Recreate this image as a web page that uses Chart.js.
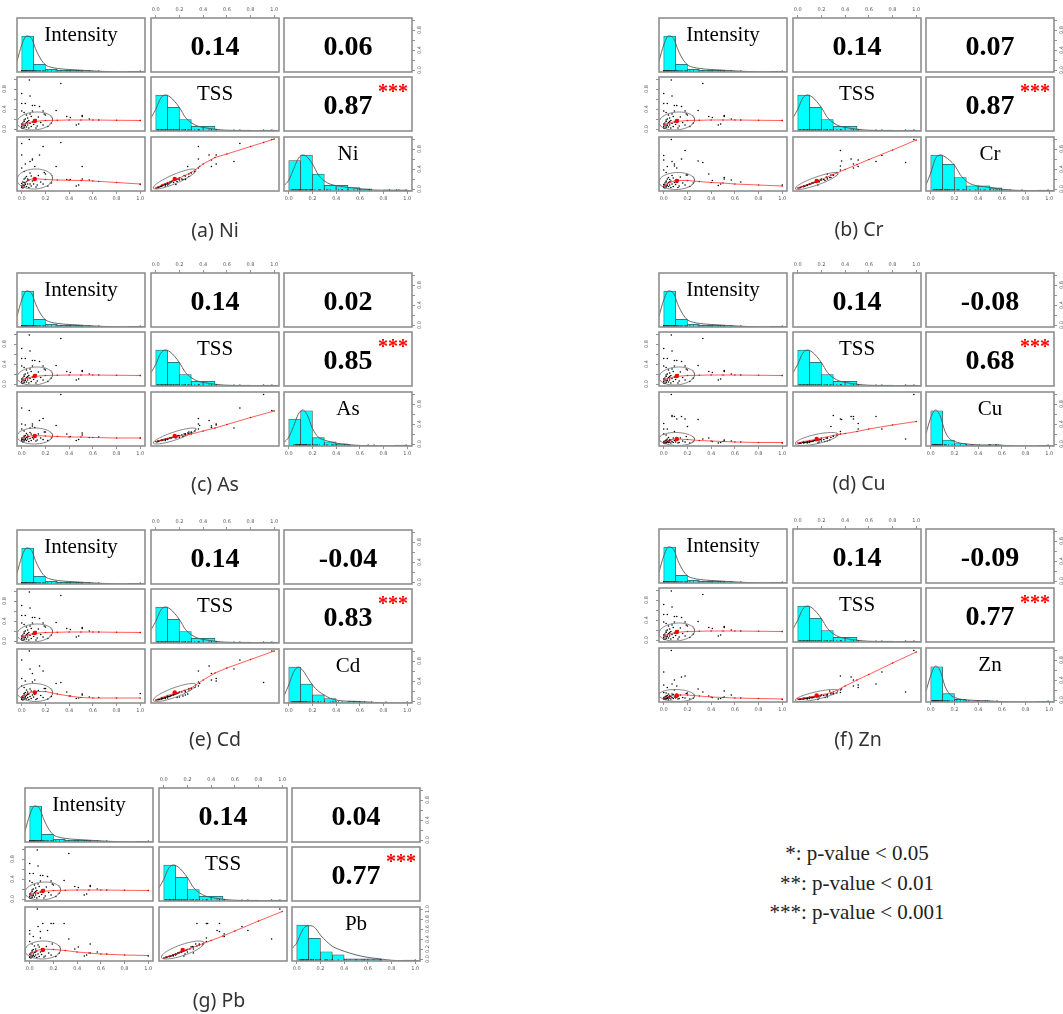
<!DOCTYPE html>
<html>
<head>
<meta charset="utf-8">
<script src="https://cdn.jsdelivr.net/npm/chart.js@4.4.0/dist/chart.umd.min.js"></script>
<style>
  body { margin: 0; background: #fff; width: 1063px; height: 1014px; position: relative; overflow: hidden; }
  .cell { position: absolute; }
  .cap { position: absolute; transform: translate(-50%, -50%); white-space: nowrap;
         font-family: 'Noto Sans', sans-serif; font-size: 19.5px; color: #333; }
  .note { position: absolute; left: 857px; transform: translate(-50%, -50%); white-space: nowrap;
          font-family: 'Liberation Serif', serif; font-size: 21px; color: #222; }
</style>
</head>
<body>
<script>
// ---- data ----
const METALS = ['Ni', 'Cr', 'As', 'Cu', 'Cd', 'Zn', 'Pb'];
const LETTERS = ['a', 'b', 'c', 'd', 'e', 'f', 'g'];
const R_INT_TSS = 0.14;
const R_INT_METAL = [0.06, 0.07, 0.02, -0.08, -0.04, -0.09, 0.04];
const R_TSS_METAL = [0.87, 0.87, 0.85, 0.68, 0.83, 0.77, 0.77];
const STARS_TSS_METAL = ['***', '***', '***', '***', '***', '***', '***'];
const NOTES = ['*: p-value < 0.05', '**: p-value < 0.01', '***: p-value < 0.001'];

const TICKS = [0, 0.2, 0.4, 0.6, 0.8, 1.0];
const SIDE_LABELS = [0, 0.4, 0.8];

// histograms (10 bins of 0.1)
const BIN_CENTERS = [0.05, 0.15, 0.25, 0.35, 0.45, 0.55, 0.65, 0.75, 0.85, 0.95];
const HIST_INT = [65, 14, 5, 3, 3, 2, 1, 0, 0, 1];
const HIST_TSS = [38, 25, 12, 5, 5, 0, 1, 1, 0, 1];
const HIST_NI = [27, 32, 15, 5, 5, 3, 2, 0, 1, 1];
const HIST_CR = [35, 26, 13, 5, 5, 3, 1, 1, 0, 1];
const HIST_AS = [26, 34, 8, 4, 2, 1, 0, 0, 0, 1];
const HIST_CU = [60, 10, 4, 2, 1, 2, 0, 0, 0, 1];
const HIST_CD = [40, 21, 9, 5, 1, 2, 1, 0, 0, 0];
const HIST_ZN = [55, 13, 4, 2, 2, 1, 0, 0, 0, 1];
const HIST_PB = [35, 22, 9, 6, 2, 2, 2, 0, 0, 1];

// density curves, relative to the tallest bar
const DENS_X = [-0.04, 0, 0.04, 0.08, 0.12, 0.16, 0.2, 0.25, 0.3, 0.35, 0.4, 0.5, 0.6, 0.7, 0.8, 0.9, 1.0, 1.04];
const DENS_INT = [0.3, 0.75, 1.0, 0.95, 0.62, 0.36, 0.2, 0.13, 0.1, 0.08, 0.07, 0.05, 0.03, 0.015, 0.006, 0.004, 0.006, 0.004];
const DENS_TSS = [0.37, 0.6, 0.9, 1.0, 0.95, 0.82, 0.65, 0.38, 0.23, 0.14, 0.1, 0.05, 0.02, 0.012, 0.01, 0.01, 0.012, 0.01];
const DENS_NI = [0.15, 0.3, 0.6, 0.9, 1.0, 0.93, 0.75, 0.45, 0.28, 0.19, 0.15, 0.1, 0.06, 0.03, 0.02, 0.015, 0.01, 0.005];
const DENS_CR = [0.17, 0.5, 0.9, 1.0, 0.95, 0.85, 0.72, 0.45, 0.27, 0.18, 0.14, 0.1, 0.05, 0.02, 0.01, 0.01, 0.01, 0.005];
const DENS_AS = [0.1, 0.25, 0.55, 0.9, 1.02, 0.85, 0.5, 0.25, 0.17, 0.12, 0.08, 0.04, 0.015, 0.01, 0.005, 0.004, 0.005, 0.003];
const DENS_CU = [0.35, 0.8, 1.02, 0.85, 0.42, 0.2, 0.13, 0.08, 0.06, 0.04, 0.03, 0.03, 0.02, 0.005, 0.002, 0.001, 0.004, 0.002];
const DENS_CD = [0.2, 0.5, 0.85, 1.0, 0.9, 0.7, 0.5, 0.33, 0.22, 0.13, 0.08, 0.05, 0.04, 0.02, 0.005, 0.002, 0.001, 0];
const DENS_ZN = [0.3, 0.75, 1.02, 0.88, 0.45, 0.22, 0.13, 0.08, 0.06, 0.05, 0.04, 0.03, 0.01, 0.003, 0.001, 0.001, 0.003, 0.001];
const DENS_PB = [0.35, 0.5, 0.8, 0.97, 0.98, 0.9, 0.72, 0.55, 0.41, 0.33, 0.27, 0.17, 0.1, 0.06, 0.02, 0.01, 0.01, 0.005];

// samples (scaled 0-1)
const INTENSITY = [0.064, 0.33, 0, 0.07, 0, 0.03, 0.09, 0.11, 0.15, 0.29, 0, 0.02, 0.09, 0.41, 0.51, 0.51, 0.38, 0.57, 0.48, 0.46,
  1.0, 0.65, 0.2, 0.25, 0.22, 0, 0, 0.01, 0.01, 0.02, 0.02, 0.02, 0.03, 0.03, 0.04, 0.04, 0.05, 0.05, 0.06, 0.06,
  0.07, 0.08, 0.08, 0.09, 0.1, 0.12, 0.13, 0.14, 0.16, 0.18, 0.19, 0.01, 0.03, 0, 0.05, 0.04, 0.12, 0.02, 0.07, 0.11, 0.18];
const TSS = [0.98, 0.91, 0.71, 0.66, 0.51, 0.51, 0.47, 0.47, 0.45, 0.37, 0.36, 0.33, 0.36, 0.23, 0.27, 0.25, 0.25, 0.2, 0.1, 0.08,
  0.17, 0.18, 0.28, 0.12, 0.05, 0.02, 0.05, 0.08, 0.12, 0.03, 0.15, 0.06, 0.1, 0.2, 0.04, 0.13, 0.08, 0.22, 0.02, 0.17,
  0.11, 0.05, 0.25, 0.14, 0.09, 0.19, 0.06, 0.24, 0.13, 0.08, 0.3, 0.01, 0.07, 0.1, 0.15, 0.28, 0.02, 0.18, 0.3, 0.16, 0.36];
const NI = [0.99, 0.93, 0.91, 0.55, 0.68, 0.5, 0.58, 0.45, 0.68, 0.45, 0.42, 0.35, 0.6, 0.19, 0.45, 0.2, 0.19, 0.18, 0.08, 0.06,
  0.09, 0.15, 0.3, 0.12, 0.06, 0.03, 0.06, 0.08, 0.14, 0.04, 0.13, 0.07, 0.12, 0.22, 0.05, 0.15, 0.1, 0.2, 0.03, 0.18,
  0.1, 0.06, 0.26, 0.16, 0.1, 0.2, 0.08, 0.27, 0.14, 0.1, 0.33, 0.02, 0.09, 0.11, 0.17, 0.25, 0.04, 0.2, 0.32, 0.18, 0.85];
const CR = [0.99, 0.53, 0.67, 0.55, 0.58, 0.45, 0.5, 0.42, 0.6, 0.56, 0.38, 0.33, 0.46, 0.17, 0.23, 0.2, 0.3, 0.18, 0.1, 0.07,
  0.08, 0.14, 0.28, 0.12, 0.05, 0.03, 0.05, 0.08, 0.12, 0.04, 0.14, 0.06, 0.1, 0.2, 0.05, 0.13, 0.08, 0.19, 0.03, 0.16,
  0.1, 0.05, 0.22, 0.13, 0.09, 0.18, 0.06, 0.24, 0.12, 0.08, 0.28, 0.02, 0.07, 0.09, 0.14, 0.23, 0.03, 0.16, 0.27, 0.15, 0.77];
const AS = [0.67, 0.99, 0.72, 0.32, 0.4, 0.38, 0.36, 0.33, 0.47, 0.37, 0.3, 0.26, 0.4, 0.15, 0.22, 0.18, 0.2, 0.13, 0.09, 0.07,
  0.12, 0.14, 0.24, 0.12, 0.07, 0.06, 0.08, 0.09, 0.12, 0.06, 0.14, 0.08, 0.11, 0.17, 0.07, 0.13, 0.1, 0.18, 0.05, 0.15,
  0.11, 0.07, 0.2, 0.13, 0.1, 0.17, 0.08, 0.2, 0.12, 0.09, 0.24, 0.04, 0.09, 0.1, 0.14, 0.21, 0.06, 0.16, 0.23, 0.15, 0.51];
const CU = [0.99, 0.1, 0.3, 0.55, 0.41, 0.3, 0.55, 0.5, 0.55, 0.49, 0.2, 0.18, 0.25, 0.05, 0.08, 0.06, 0.12, 0.06, 0.03, 0.02,
  0.02, 0.04, 0.35, 0.05, 0.02, 0.02, 0.03, 0.04, 0.06, 0.02, 0.07, 0.03, 0.05, 0.1, 0.03, 0.06, 0.04, 0.09, 0.02, 0.08,
  0.05, 0.03, 0.12, 0.07, 0.04, 0.09, 0.03, 0.12, 0.06, 0.04, 0.15, 0.01, 0.04, 0.05, 0.07, 0.13, 0.02, 0.08, 0.57, 0.07, 0.5];
const CD = [1.0, 0.37, 0.82, 0.64, 0.45, 0.4, 0.55, 0.42, 0.7, 0.35, 0.3, 0.27, 0.38, 0.1, 0.14, 0.12, 0.18, 0.08, 0.06, 0.05,
  0.15, 0.07, 0.25, 0.09, 0.04, 0.03, 0.05, 0.07, 0.1, 0.03, 0.12, 0.06, 0.09, 0.17, 0.04, 0.11, 0.07, 0.18, 0.03, 0.14,
  0.09, 0.05, 0.2, 0.12, 0.08, 0.16, 0.05, 0.21, 0.11, 0.07, 0.25, 0.02, 0.06, 0.08, 0.13, 0.22, 0.03, 0.15, 0.24, 0.13, 0.6];
const ZN = [0.99, 0.16, 0.56, 0.32, 0.3, 0.25, 0.4, 0.28, 0.46, 0.22, 0.15, 0.14, 0.2, 0.05, 0.18, 0.06, 0.08, 0.1, 0.03, 0.02,
  0.01, 0.04, 0.14, 0.04, 0.02, 0.02, 0.03, 0.04, 0.06, 0.02, 0.07, 0.03, 0.05, 0.09, 0.02, 0.06, 0.04, 0.09, 0.02, 0.07,
  0.05, 0.03, 0.11, 0.06, 0.04, 0.08, 0.03, 0.1, 0.05, 0.04, 0.13, 0.01, 0.03, 0.05, 0.07, 0.12, 0.02, 0.08, 0.12, 0.06, 0.48];
const PB = [1.0, 0.4, 0.57, 0.65, 0.5, 0.45, 0.55, 0.71, 0.57, 0.71, 0.35, 0.3, 0.42, 0.24, 0.3, 0.12, 0.2, 0.14, 0.08, 0.06,
  0.06, 0.1, 0.71, 0.12, 0.05, 0.03, 0.05, 0.08, 0.12, 0.04, 0.14, 0.06, 0.1, 0.19, 0.05, 0.13, 0.08, 0.2, 0.03, 0.16,
  0.1, 0.05, 0.24, 0.14, 0.09, 0.18, 0.06, 0.25, 0.12, 0.08, 0.3, 0.02, 0.07, 0.09, 0.14, 0.26, 0.04, 0.17, 0.28, 0.16, 0.71];

// means and ellipse half-extents as drawn
const MEAN_INT = 0.11, MEAN_TSS = 0.16;
const SPREAD_INT = 0.15, SPREAD_TSS = 0.18;
const MEAN_METAL = [0.2, 0.16, 0.16, 0.1, 0.17, 0.09, 0.18];
const SPREAD_METAL = [0.2, 0.17, 0.16, 0.13, 0.18, 0.12, 0.18];

// loess smooths
const LO_X = [0, 0.05, 0.1, 0.2, 0.3, 0.4, 0.5, 0.6, 0.8, 1.0];
const LO_INT_TSS = [0.08, 0.12, 0.15, 0.17, 0.175, 0.18, 0.18, 0.18, 0.175, 0.17];
const LO_INT_NI = [0.05, 0.17, 0.21, 0.19, 0.18, 0.175, 0.17, 0.16, 0.13, 0.1];
const LO_INT_CR = [0.06, 0.13, 0.17, 0.17, 0.15, 0.13, 0.12, 0.1, 0.08, 0.06];
const LO_INT_AS = [0.12, 0.15, 0.17, 0.16, 0.15, 0.14, 0.14, 0.13, 0.12, 0.12];
const LO_INT_CU = [0.04, 0.08, 0.1, 0.09, 0.07, 0.06, 0.05, 0.04, 0.03, 0.03];
const LO_INT_CD = [0.08, 0.15, 0.19, 0.19, 0.14, 0.1, 0.07, 0.06, 0.06, 0.06];
const LO_INT_ZN = [0.04, 0.08, 0.1, 0.1, 0.08, 0.06, 0.05, 0.04, 0.03, 0.02];
const LO_INT_PB = [0.1, 0.16, 0.2, 0.19, 0.17, 0.14, 0.12, 0.1, 0.08, 0.07];
const LO_TSS_NI = [0.02, 0.08, 0.13, 0.22, 0.33, 0.5, 0.63, 0.7, 0.85, 1.0];
const LO_TSS_CR = [0.02, 0.06, 0.1, 0.19, 0.29, 0.39, 0.49, 0.59, 0.78, 0.98];
const LO_TSS_AS = [0.05, 0.08, 0.11, 0.16, 0.2, 0.26, 0.32, 0.39, 0.53, 0.66];
const LO_TSS_CU = [0.02, 0.05, 0.07, 0.12, 0.17, 0.21, 0.25, 0.3, 0.38, 0.45];
const LO_TSS_CD = [0.02, 0.07, 0.11, 0.18, 0.26, 0.42, 0.56, 0.66, 0.83, 1.0];
const LO_TSS_ZN = [0.02, 0.04, 0.06, 0.1, 0.16, 0.28, 0.4, 0.51, 0.74, 0.96];
const LO_TSS_PB = [0.02, 0.06, 0.1, 0.19, 0.28, 0.37, 0.46, 0.56, 0.76, 0.95];

// lookup tables built from the arrays above
const METAL_VALUES = [NI, CR, AS, CU, CD, ZN, PB];
const METAL_HIST = [HIST_NI, HIST_CR, HIST_AS, HIST_CU, HIST_CD, HIST_ZN, HIST_PB];
const METAL_DENS = [DENS_NI, DENS_CR, DENS_AS, DENS_CU, DENS_CD, DENS_ZN, DENS_PB];
const LO_INT_METAL = [LO_INT_NI, LO_INT_CR, LO_INT_AS, LO_INT_CU, LO_INT_CD, LO_INT_ZN, LO_INT_PB];
const LO_TSS_METAL = [LO_TSS_NI, LO_TSS_CR, LO_TSS_AS, LO_TSS_CU, LO_TSS_CD, LO_TSS_ZN, LO_TSS_PB];

// ---- layout ----
const PANEL_X = [17, 659, 17, 659, 17, 659, 25];
const PANEL_Y = [18, 18, 273, 273, 530, 529, 788];
const CAP_X = [215, 859, 215, 859, 215, 858, 219];
const CAP_Y = [229, 228, 483, 482, 738, 738, 999];
const COL_OFF = [0, 134, 267];
const ROW_OFF = [0, 59, 119];
const CELL_W = 128, CELL_H = 54, M = 16;
const CYAN = '#00ffff';
const BOX = '#8f8f8f';

Chart.defaults.animation = false;
Chart.defaults.events = [];
Chart.defaults.plugins.legend.display = false;
Chart.defaults.plugins.tooltip.enabled = false;

const cellText = {
  id: 'cellText',
  afterDraw(chart, args, opts) {
    const {ctx, chartArea: a} = chart;
    ctx.save();
    ctx.strokeStyle = BOX;
    ctx.lineWidth = 1.6;
    ctx.strokeRect(a.left, a.top, a.right - a.left, a.bottom - a.top);
    (opts.items || []).forEach(it => {
      ctx.font = it.font;
      ctx.fillStyle = it.color || '#000';
      ctx.textAlign = it.align || 'center';
      ctx.textBaseline = 'alphabetic';
      ctx.fillText(it.text, a.left + it.dx, a.top + it.dy);
    });
    ctx.restore();
  }
};
Chart.register(cellText);

function axis(name, pos, shown, labels, pad) {
  const vertical = name === 'y';
  return {
    type: 'linear', axis: name, position: pos, min: -0.04, max: 1.04, display: shown, offset: false,
    grid: {display: true, offset: false, drawOnChartArea: false, drawTicks: true, tickLength: 3, color: '#777', lineWidth: 0.8},
    border: {display: false},
    ticks: {
      autoSkip: false, padding: pad,
      minRotation: vertical ? 90 : 0, maxRotation: vertical ? 90 : 0,
      crossAlign: vertical ? 'center' : 'near',
      font: {size: 5, family: 'DejaVu Sans'}, color: '#555',
      callback: v => labels.some(l => Math.abs(l - v) < 1e-6) ? v.toFixed(1) : ''
    },
    afterBuildTicks: s => { s.ticks = TICKS.map(v => ({value: v})); },
    afterFit: s => { if (!shown) return; if (vertical) s.width = M; else s.height = M; }
  };
}

function pads(top, right, bottom, left) {
  return {top: top ? 0 : M, right: right ? 0 : M, bottom: bottom ? 0 : M, left: left ? 0 : M};
}

function diagConfig(label, hist, dens, rug, showBottom, showRight, rightLabels) {
  const maxC = Math.max(...hist);
  const densPts = DENS_X.map((x, i) => ({x, y: dens[i] * maxC}));
  const yMax = 1.5 * Math.max(maxC, ...densPts.map(p => p.y));
  const scales = {
    x: axis('x', 'bottom', showBottom, TICKS, 2),
    y: {type: 'linear', position: 'left', min: 0, max: yMax, display: false}
  };
  if (showRight) scales.yr = axis('y', 'right', true, rightLabels, 1);
  return {
    type: 'bar',
    data: {datasets: [
      {type: 'bar', data: BIN_CENTERS.map((x, i) => ({x, y: hist[i]})), backgroundColor: CYAN,
       borderColor: '#335555', borderWidth: 0.8, barPercentage: 1, categoryPercentage: 1, order: 3},
      {type: 'line', data: densPts, borderColor: '#555', borderWidth: 0.9, pointRadius: 0,
       cubicInterpolationMode: 'monotone', order: 2},
      {type: 'scatter', data: rug.map(v => ({x: v, y: 0})), pointStyle: 'line', rotation: 90, pointRadius: 1.8,
       borderColor: '#222', borderWidth: 0.7, order: 1}
    ]},
    options: {
      responsive: false,
      layout: {padding: pads(false, showRight, showBottom, false)},
      scales,
      plugins: {cellText: {items: [{text: label, font: "21px 'Liberation Serif'", dx: CELL_W / 2, dy: 23}]}}
    }
  };
}

function ellipse(cx, cy, rx, ry, r) {
  const d = Math.acos(r);
  const pts = [];
  for (let k = 0; k <= 72; k++) {
    const t = k / 72 * 2 * Math.PI;
    pts.push({x: cx + rx * Math.cos(t), y: cy + ry * Math.cos(t + d)});
  }
  return pts;
}

function scatterConfig(xs, ys, loY, mx, my, sx, sy, r, showLeft, showBottom) {
  return {
    type: 'scatter',
    data: {datasets: [
      {type: 'scatter', data: xs.map((x, i) => ({x, y: ys[i]})), pointRadius: 0.8,
       backgroundColor: '#000', borderWidth: 0, order: 4},
      {type: 'line', data: ellipse(mx, my, sx, sy, r), borderColor: '#666', borderWidth: 0.8,
       pointRadius: 0, tension: 0, order: 3},
      {type: 'line', data: LO_X.map((x, i) => ({x, y: loY[i]})), borderColor: 'rgba(255,40,40,0.75)',
       borderWidth: 1, pointRadius: 0.8, pointBackgroundColor: '#f00', pointBorderWidth: 0, tension: 0, order: 2},
      {type: 'scatter', data: [{x: mx, y: my}], pointRadius: 2.2, backgroundColor: '#f00', borderWidth: 0, order: 1}
    ]},
    options: {
      responsive: false,
      layout: {padding: pads(false, false, showBottom, showLeft)},
      scales: {
        x: axis('x', 'bottom', showBottom, TICKS, 2),
        y: axis('y', 'left', showLeft, SIDE_LABELS, 5)
      },
      plugins: {cellText: {items: []}}
    }
  };
}

function corrConfig(value, stars, showTop, showRight) {
  const items = [{text: value.toFixed(2), font: "bold 28px 'Liberation Serif'", dx: CELL_W / 2, dy: CELL_H / 2 + 10}];
  if (stars) items.push({text: stars, font: "bold 20px 'Liberation Serif'", color: '#ff0000', align: 'left', dx: 94, dy: 21});
  return {
    type: 'scatter',
    data: {datasets: []},
    options: {
      responsive: false,
      layout: {padding: pads(showTop, showRight, false, false)},
      scales: {
        x: axis('x', 'top', showTop, TICKS, 2),
        y: axis('y', 'right', showRight, SIDE_LABELS, 1)
      },
      plugins: {cellText: {items}}
    }
  };
}

function addCell(p, col, row, config) {
  const div = document.createElement('div');
  div.className = 'cell';
  div.style.left = (PANEL_X[p] + COL_OFF[col] - M) + 'px';
  div.style.top = (PANEL_Y[p] + ROW_OFF[row] - M) + 'px';
  const cv = document.createElement('canvas');
  cv.width = CELL_W + 2 * M;
  cv.height = CELL_H + 2 * M;
  div.appendChild(cv);
  document.body.appendChild(div);
  new Chart(cv, config);
}

METALS.forEach((name, p) => {
  const vals = METAL_VALUES[p];
  const rightLabels = p === 6 ? TICKS : SIDE_LABELS;
  // row 1
  addCell(p, 0, 0, diagConfig('Intensity', HIST_INT, DENS_INT, INTENSITY, false, false));
  addCell(p, 1, 0, corrConfig(R_INT_TSS, '', true, false));
  addCell(p, 2, 0, corrConfig(R_INT_METAL[p], '', false, true));
  // row 2
  addCell(p, 0, 1, scatterConfig(INTENSITY, TSS, LO_INT_TSS, MEAN_INT, MEAN_TSS, SPREAD_INT, SPREAD_TSS, R_INT_TSS, true, false));
  addCell(p, 1, 1, diagConfig('TSS', HIST_TSS, DENS_TSS, TSS, false, false));
  addCell(p, 2, 1, corrConfig(R_TSS_METAL[p], STARS_TSS_METAL[p], false, false));
  // row 3
  addCell(p, 0, 2, scatterConfig(INTENSITY, vals, LO_INT_METAL[p], MEAN_INT, MEAN_METAL[p], SPREAD_INT, SPREAD_METAL[p], R_INT_METAL[p], false, true));
  addCell(p, 1, 2, scatterConfig(TSS, vals, LO_TSS_METAL[p], MEAN_TSS, MEAN_METAL[p], SPREAD_TSS, SPREAD_METAL[p], R_TSS_METAL[p], false, false));
  addCell(p, 2, 2, diagConfig(name, METAL_HIST[p], METAL_DENS[p], vals, true, true, rightLabels));

  const cap = document.createElement('div');
  cap.className = 'cap';
  cap.style.left = CAP_X[p] + 'px';
  cap.style.top = CAP_Y[p] + 'px';
  cap.textContent = '(' + LETTERS[p] + ') ' + name;
  document.body.appendChild(cap);
});

NOTES.forEach((t, i) => {
  const n = document.createElement('div');
  n.className = 'note';
  n.style.top = (853 + i * 29.5) + 'px';
  n.textContent = t;
  document.body.appendChild(n);
});
</script>
</body>
</html>
